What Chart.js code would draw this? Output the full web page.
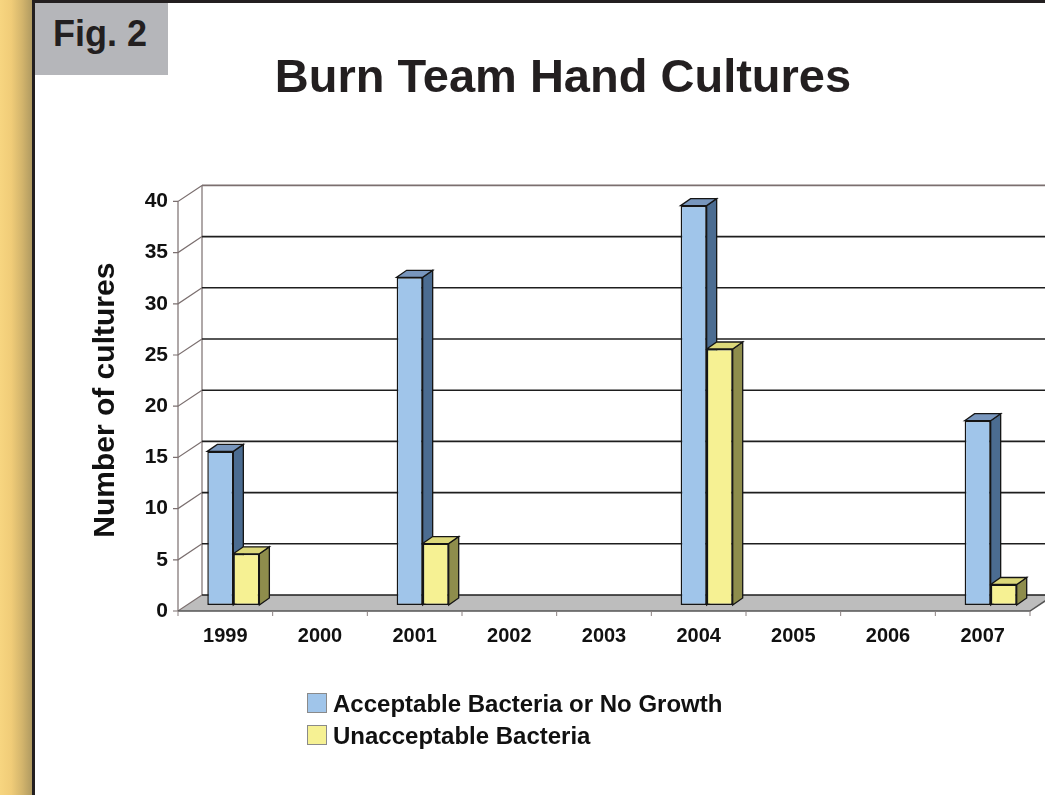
<!DOCTYPE html>
<html>
<head>
<meta charset="utf-8">
<script src="https://cdn.jsdelivr.net/npm/chart.js@4.4.1/dist/chart.umd.min.js"></script>
<style>
body { margin: 0; background: #fff; font-family: "Liberation Sans", Arial, sans-serif; }
#page { position: relative; width: 1045px; height: 795px; overflow: hidden; background: #fff; }
#strip { position: absolute; left: 0; top: 0; width: 32px; height: 795px;
  background: linear-gradient(to right, #f7d580 0%, #f0cc78 35%, #d2b46c 70%, #b09a61 100%); }
#frameL { position: absolute; left: 32px; top: 0; width: 3px; height: 795px; background: #231f20; }
#frameT { position: absolute; left: 32px; top: 0; width: 1013px; height: 3px; background: #231f20; }
#fig { position: absolute; left: 35px; top: 3px; width: 133px; height: 72px; background: #b5b6ba; }
#fig span { position: absolute; left: 18px; top: 13px; font-size: 36px; line-height: 36px; font-weight: bold; color: #231f20; }
#wrap { position: absolute; left: 0; top: 0; width: 1045px; height: 795px; }
#legend { position: absolute; left: 307px; top: 688px; }
#legend div { position: relative; height: 32px; line-height: 32px; font-size: 24px; font-weight: bold; color: #111; padding-left: 26px; white-space: nowrap; }
#legend i { position: absolute; left: 0; top: 5px; width: 18px; height: 18px; border: 1px solid #8a8a8a; }
</style>
</head>
<body>
<div id="page">
  <div id="strip"></div>
  <div id="frameL"></div>
  <div id="frameT"></div>
  <div id="wrap"><canvas id="myChart"></canvas></div>
  <div id="fig"><span>Fig. 2</span></div>
  <div id="legend"></div>
</div>
<script>
var years = ['1999', '2000', '2001', '2002', '2003', '2004', '2005', '2006', '2007'];
var acceptable = [15, 0, 32, 0, 0, 39, 0, 0, 18];
var unacceptable = [5, 0, 6, 0, 0, 25, 0, 0, 2];
var seriesNames = ['Acceptable Bacteria or No Growth', 'Unacceptable Bacteria'];
var chartTitle = 'Burn Team Hand Cultures';
var yTitle = 'Number of cultures';
var yMin = 0, yMax = 40, yStep = 5;

var FONT = '"Liberation Sans", Arial, sans-serif';
var frontColors = ['#a0c5ea', '#f6f193'];
var sideColors = ['#4b6c91', '#8e8d4c'];
var topColors = ['#7896bd', '#dcd87a'];

// fake depth: front edge / back wall relative to the bar plane, and bar depth
var FX = -8, FY = 6;
var BX = 16, BY = -10;
var BDX = 10, BDY = -7;

function poly(ctx, pts, fill) {
    ctx.beginPath();
    ctx.moveTo(pts[0][0], pts[0][1]);
    for (var i = 1; i < pts.length; i++) ctx.lineTo(pts[i][0], pts[i][1]);
    ctx.closePath();
    ctx.fillStyle = fill;
    ctx.fill();
    ctx.stroke();
}

var fake3d = {
    id: 'fake3d',
    beforeDatasetsDraw: function(chart) {
        var ctx = chart.ctx, a = chart.chartArea;
        var ys = chart.scales.y, xs = chart.scales.x;
        var y0 = ys.getPixelForValue(yMin), yTop = ys.getPixelForValue(yMax);
        ctx.save();

        // floor
        ctx.beginPath();
        ctx.moveTo(a.left + FX, y0 + FY);
        ctx.lineTo(a.right + FX, y0 + FY);
        ctx.lineTo(a.right + BX, y0 + BY);
        ctx.lineTo(a.left + BX, y0 + BY);
        ctx.closePath();
        ctx.fillStyle = '#bdbdbd';
        ctx.fill();

        // side wall edges
        ctx.strokeStyle = '#7b6f6f';
        ctx.lineWidth = 1.2;
        ctx.beginPath();
        ctx.moveTo(a.left + FX, y0 + FY); ctx.lineTo(a.left + FX, yTop + FY);
        ctx.moveTo(a.left + BX, y0 + BY); ctx.lineTo(a.left + BX, yTop + BY);
        ctx.stroke();

        ys.ticks.forEach(function(t) {
            var py = ys.getPixelForValue(t.value);
            ctx.strokeStyle = t.value === yMax ? '#7b6f6f' : '#1e1e1e';
            ctx.lineWidth = 1.6;
            ctx.beginPath();
            ctx.moveTo(a.left + BX, py + BY);
            ctx.lineTo(chart.width, py + BY);
            ctx.stroke();
            ctx.strokeStyle = '#7b6f6f';
            ctx.lineWidth = 1.2;
            ctx.beginPath();
            ctx.moveTo(a.left + FX - 5, py + FY);
            ctx.lineTo(a.left + FX, py + FY);
            ctx.lineTo(a.left + BX, py + BY);
            ctx.stroke();
        });

        // floor front edge and category ticks
        ctx.strokeStyle = '#555';
        ctx.lineWidth = 1.5;
        ctx.beginPath();
        ctx.moveTo(a.left + FX, y0 + FY);
        ctx.lineTo(a.right + FX, y0 + FY);
        ctx.lineTo(a.right + BX, y0 + BY);
        ctx.stroke();
        var catW = xs.getPixelForValue(1) - xs.getPixelForValue(0);
        ctx.strokeStyle = '#8a8080';
        ctx.lineWidth = 1;
        ctx.beginPath();
        for (var k = 0; k <= years.length; k++) {
            var bx = xs.getPixelForValue(0) - catW / 2 + k * catW + FX;
            ctx.moveTo(bx, y0 + FY);
            ctx.lineTo(bx, y0 + FY + 5);
        }
        ctx.stroke();

        // side and top faces of the bars
        ctx.strokeStyle = '#151515';
        ctx.lineWidth = 1.3;
        chart.data.datasets.forEach(function(ds, di) {
            var meta = chart.getDatasetMeta(di);
            meta.data.forEach(function(bar, i) {
                if (!(ds.data[i] > 0)) return;
                var p = bar.getProps(['x', 'y', 'base', 'width'], true);
                var x1 = p.x - p.width / 2, x2 = p.x + p.width / 2;
                poly(ctx, [[x2, p.y], [x2 + BDX, p.y + BDY], [x2 + BDX, p.base + BDY], [x2, p.base]], sideColors[di]);
                poly(ctx, [[x1, p.y], [x1 + BDX, p.y + BDY], [x2 + BDX, p.y + BDY], [x2, p.y]], topColors[di]);
            });
        });
        ctx.restore();
    }
};

function borderFor(c) {
    return c.raw > 0 ? 1.5 : 0;
}

Chart.defaults.font.family = FONT;
Chart.defaults.color = '#111';

var chart = new Chart(document.getElementById('myChart'), {
    type: 'bar',
    data: {
        labels: years,
        datasets: [{
            label: seriesNames[0],
            data: acceptable,
            backgroundColor: frontColors[0],
            borderColor: '#151515',
            borderWidth: borderFor,
            borderSkipped: false
        }, {
            label: seriesNames[1],
            data: unacceptable,
            backgroundColor: frontColors[1],
            borderColor: '#151515',
            borderWidth: borderFor,
            borderSkipped: false
        }]
    },
    options: {
        responsive: true,
        maintainAspectRatio: false,
        animation: false,
        layout: { padding: { left: 88, right: 7, top: 0, bottom: 130 } },
        datasets: { bar: { categoryPercentage: 0.55, barPercentage: 1 } },
        plugins: {
            legend: { display: false },
            tooltip: { enabled: false },
            title: {
                display: true,
                text: chartTitle,
                color: '#231f20',
                font: { size: 47, weight: 'bold' },
                padding: { top: 51, bottom: 88 }
            }
        },
        scales: {
            x: {
                grid: { display: false },
                border: { display: false },
                ticks: { font: { size: 20, weight: 'bold' }, padding: 11, labelOffset: -8, maxRotation: 0 },
                afterFit: function(s) { s.height = 60; }
            },
            y: {
                min: yMin,
                max: yMax,
                grid: { display: false },
                border: { display: false },
                ticks: { stepSize: yStep, font: { size: 21, weight: 'bold' }, padding: 10, labelOffset: 6 },
                title: { display: true, text: yTitle, font: { size: 30, weight: 'bold' }, padding: 0, color: '#111' },
                afterFit: function(s) { s.width = 98; }
            }
        }
    },
    plugins: [fake3d]
});

// legend built from the series names and colours
var lg = document.getElementById('legend');
seriesNames.forEach(function(name, i) {
    var row = document.createElement('div');
    var sw = document.createElement('i');
    sw.style.background = frontColors[i];
    row.appendChild(sw);
    row.appendChild(document.createTextNode(name));
    lg.appendChild(row);
});
</script>
</body>
</html>
